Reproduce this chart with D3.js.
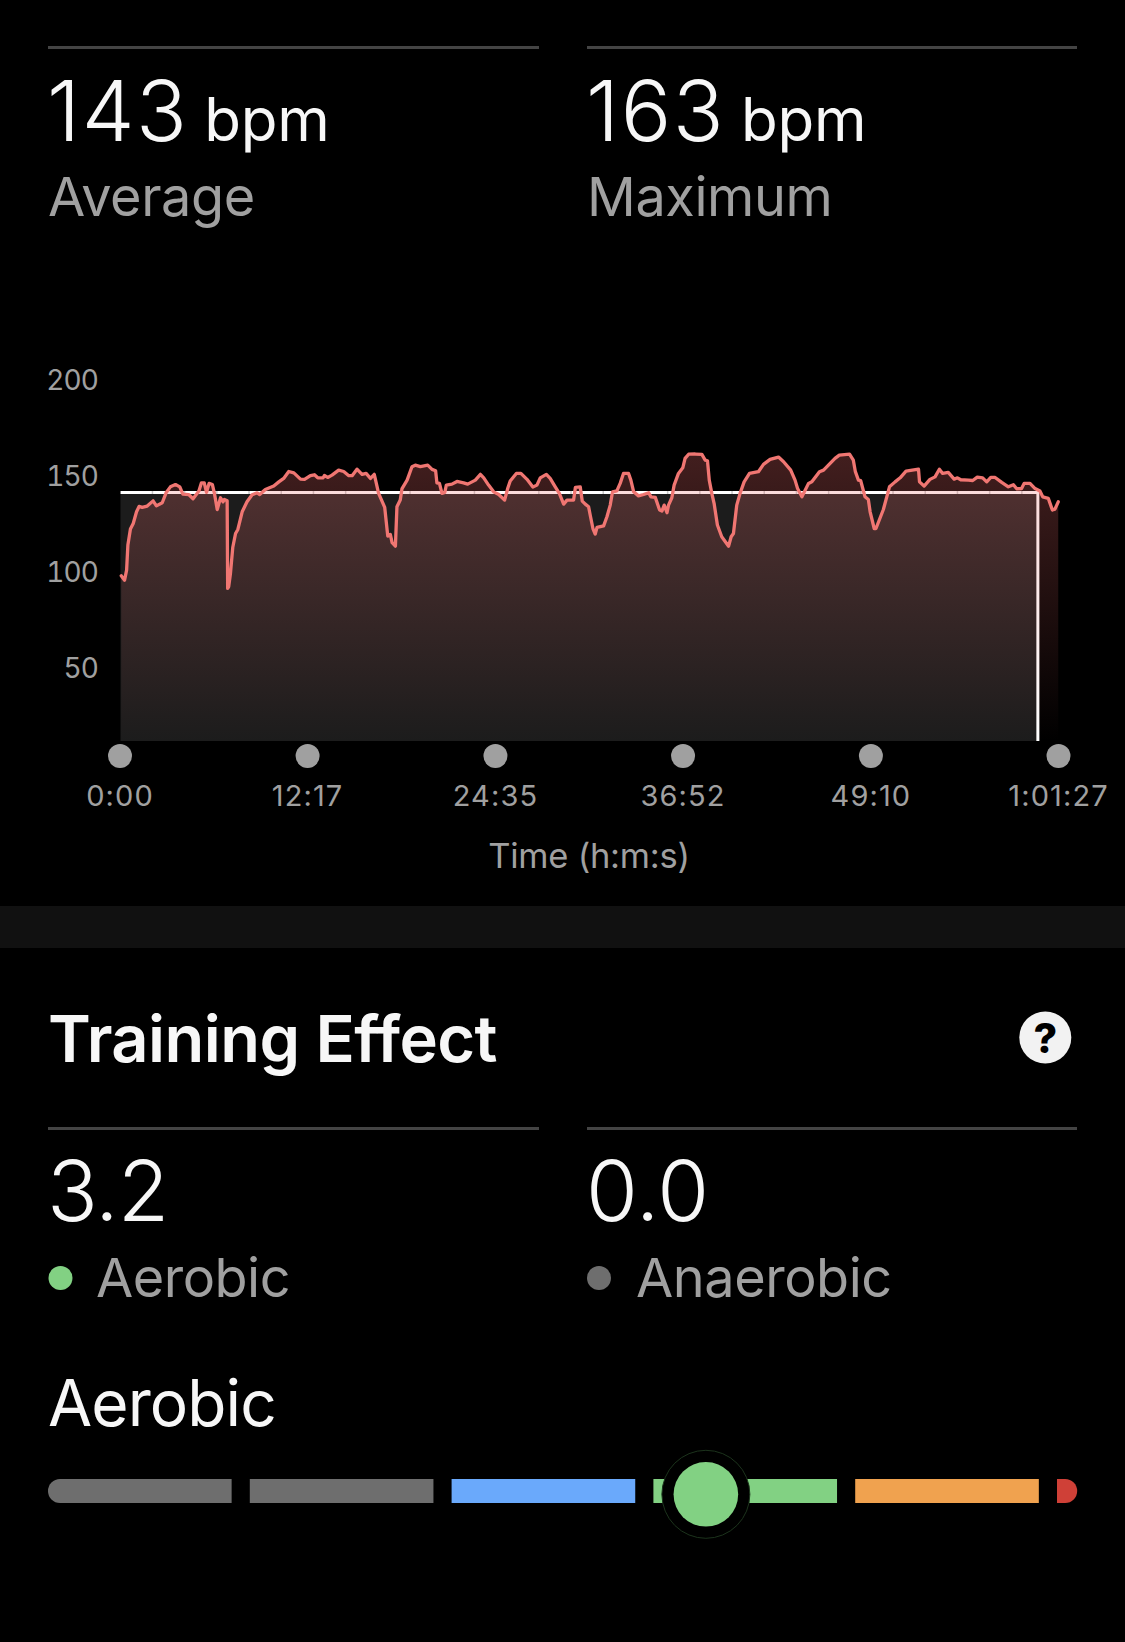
<!DOCTYPE html>
<html><head><meta charset="utf-8">
<script src="https://cdn.jsdelivr.net/npm/d3@7/dist/d3.min.js"></script>
<style>
html,body{margin:0;padding:0;background:#000;overflow:hidden}
svg{display:block}
text{font-family:Inter,"Noto Sans",sans-serif}
</style></head><body>
<svg id="c" width="1125" height="1642"></svg>
<script>
// Heart-rate trace
const seconds=[3,16,24,29,39,50,63,73,85,105,128,141,164,179,196,216,233,245,268,285,308,318,329,338,348,361,369,380,393,403,408,419,421,425,432,441,452,461,478,497,517,537,547,569,602,622,641,661,681,707,723,746,762,775,796,801,814,831,857,877,897,910,929,949,965,982,997,1014,1038,1050,1060,1067,1080,1086,1099,1106,1126,1145,1158,1178,1207,1224,1238,1243,1253,1263,1274,1280,1302,1322,1348,1364,1394,1414,1427,1446,1466,1486,1509,1521,1531,1555,1573,1597,1620,1636,1649,1673,1688,1708,1724,1741,1754,1780,1787,1806,1814,1826,1839,1846,1856,1865,1872,1898,1911,1924,1933,1950,1963,1976,1996,2005,2016,2035,2055,2075,2084,2101,2118,2127,2136,2147,2153,2166,2175,2192,2209,2218,2232,2258,2284,2297,2306,2313,2323,2332,2345,2362,2389,2399,2408,2421,2434,2450,2471,2506,2526,2552,2585,2605,2633,2650,2660,2677,2703,2716,2746,2762,2807,2824,2864,2879,2887,2899,2908,2925,2938,2945,2961,2968,2997,3021,3043,3063,3086,3135,3139,3157,3180,3200,3217,3230,3252,3275,3288,3301,3331,3348,3366,3387,3403,3419,3436,3462,3488,3508,3521,3540,3550,3573,3593,3612,3623,3645,3661,3671,3684];
const bpm=[99.6,97.3,102.5,115.6,123.9,126.8,132.9,135.7,135.2,135.9,138.6,136,137.6,142.8,145.9,147.1,145.9,142.1,141.9,139.7,143.7,148,148,143,147.7,147.1,142.5,134.1,140.2,138.1,139.3,138.6,93,93.9,100.8,114.3,121.6,123.7,132.9,138.1,141.8,142.8,141.9,144.5,146.3,148.5,150.3,153.9,153.2,149.9,149.8,151.8,152.2,150.6,150.6,151.8,150.8,152,154.6,153.9,151.7,151.7,155.1,152.4,152.9,150.3,152.4,142.5,135.2,120.2,121.1,116.8,115,135.5,139,145,149.4,156.4,157.2,156.4,157.2,155,154.3,148,147.7,142.5,143,146.8,147.3,148.7,148,147.3,149.4,152.4,150.6,146.8,143.3,141.9,139,145,148.9,152.9,152.9,149.8,145.8,146.8,150.6,152.4,150.3,145.9,142.5,136.9,139,139,145.6,145.9,138.5,136.9,135.5,130.7,124.2,121.3,124.8,125.6,130.3,136.4,143.3,143.8,147.7,152.9,152.9,149.4,143.3,141.2,141.9,142.8,140.7,140.4,133.8,133.3,136.4,132.4,136.4,140.2,146.8,152.9,155.8,160.7,162.9,163,162.8,159.8,159.5,149.4,142.5,137.3,126,119.9,115,119.9,121.6,136.4,142.5,148.5,152.9,153.8,157.6,160.2,161.4,159,154.6,149.4,145,140.7,147.7,148.5,153.8,154.6,160.7,162.4,162.9,159.8,153.8,149.4,149.1,140.7,139.3,132.9,124.2,124.2,134.1,145.9,148.5,150.6,154.1,155.1,148.5,146.3,149.8,151.1,155.1,152.9,153.4,149.9,150.6,149.6,149.4,149.2,151,150.6,148.5,150.8,150.8,148.2,145.9,147,144.9,145,147.7,147.7,145,143.7,140.7,139.9,133.8,134.3,138.1];
const averageBpm=143;
const maximumBpm=163;
const averageEndSeconds=3604;
const totalSeconds=3687;
const yTicks=[200,150,100,50];
const xTickSeconds=[0,737,1475,2212,2950,3687];
const xTickLabels=["0:00","12:17","24:35","36:52","49:10","1:01:27"];
// Aerobic training-effect scale
const teStarts=[0,1,2,3,4,5];
const teEnds=[0.91,1.91,2.91,3.91,4.91,5.1];
const teColors=["#6e6e6e","#6e6e6e","#6aa9fb","#82d183","#f0a24f","#cf4037"];
const aerobicTE=3.2, anaerobicTE=0.0, aerobicMarker=3.26;

const svg=d3.select("#c");
svg.append("rect").attr("width",1125).attr("height",1642).attr("fill","#000");
const grey="#a0a0a0", white="#f7f7f7";
const T=(x,y,s,size,fill,weight,anchor)=>svg.append("text").attr("x",x).attr("y",y).text(s)
  .attr("font-size",size).attr("fill",fill).attr("font-weight",weight||400).attr("text-anchor",anchor||"start");
const rule=(x1,x2,y)=>svg.append("rect").attr("x",x1).attr("y",y-1.5).attr("width",x2-x1).attr("height",3).attr("fill","#444");

// Header stats
rule(48,539,47.5); rule(587,1077,47.5);
function stat(x,val,unit,label){
  const t=T(x,141,val,84,white,300).attr("letter-spacing",1.6);
  t.append("tspan").text(" ").attr("font-size",50);
  t.append("tspan").text(unit).attr("font-size",60).attr("letter-spacing",-0.2).attr("font-weight",400);
  T(x+1,216,label,54,grey,400).attr("letter-spacing",-0.4);
}
stat(47,averageBpm,"bpm","Average");
stat(586,maximumBpm,"bpm","Maximum");

// Chart
const x=d3.scaleLinear().domain([0,totalSeconds]).range([120.5,1059]);
const y=d3.scaleLinear().domain([13.5,200]).range([741,383]);
const data=seconds.map((s,i)=>({s,v:bpm[i]}));
const defs=svg.append("defs");
const g=defs.append("linearGradient").attr("id","hr").attr("gradientUnits","userSpaceOnUse")
  .attr("x1",0).attr("x2",0).attr("y1",450).attr("y2",741);
g.append("stop").attr("offset",0).attr("stop-color","#f06e6e").attr("stop-opacity",0.28);
g.append("stop").attr("offset",1).attr("stop-color","#f06e6e").attr("stop-opacity",0);

// Average block
svg.append("rect").attr("x",x(0)).attr("y",y(averageBpm)).attr("width",x(averageEndSeconds)-x(0))
  .attr("height",y(y.domain()[0])-y(averageBpm)).attr("fill","rgba(255,255,255,0.11)");
svg.append("path").attr("fill","none").attr("stroke","#fff").attr("stroke-width",3)
  .attr("d",d3.line()([[x(0),y(averageBpm)],[x(averageEndSeconds),y(averageBpm)],[x(averageEndSeconds),y(y.domain()[0])]]));
svg.append("path").attr("fill","none").attr("stroke","#000").attr("stroke-opacity",0.22).attr("stroke-width",3)
  .attr("stroke-dasharray","1.5 30.7").attr("stroke-dashoffset",1)
  .attr("d",d3.line()([[x(0),y(averageBpm)],[x(averageEndSeconds),y(averageBpm)]]));
// Area and line
svg.append("path").datum(data).attr("fill","url(#hr)")
  .attr("d",d3.area().x(d=>x(d.s)).y0(y(y.domain()[0])).y1(d=>y(d.v)));
svg.append("path").datum(data).attr("fill","none").attr("stroke","#f07672").attr("stroke-width",3.3)
  .attr("stroke-linejoin","round").attr("stroke-linecap","round").attr("d",d3.line().x(d=>x(d.s)).y(d=>y(d.v)));

// Y axis
const ya=svg.append("g").attr("transform","translate(98,-2.5)")
  .call(d3.axisLeft(y).tickValues(yTicks).tickSize(0).tickPadding(0));
ya.select(".domain").remove();
ya.selectAll("text").attr("fill",grey).attr("font-size",28).attr("letter-spacing",-0.9).style("font-variant-numeric","tabular-nums");

// X axis
const xa=svg.append("g").attr("transform","translate(-1,756)")
  .call(d3.axisBottom(x).tickValues(xTickSeconds).tickFormat((d,i)=>xTickLabels[i]).tickSize(0).tickPadding(0));
xa.select(".domain").remove();
xa.selectAll(".tick").insert("circle","text").attr("r",12).attr("fill",grey);
xa.selectAll("text").attr("fill",grey).attr("font-size",29).attr("y",50).attr("dy",0).attr("letter-spacing",1.1);
T(589,868,"Time (h:m:s)",34.5,grey,400,"middle").attr("letter-spacing",-0.25);

// Separator
svg.append("rect").attr("x",0).attr("y",906).attr("width",1125).attr("height",42).attr("fill","#111");

// Training effect
T(48,1062,"Training Effect",65,white,600).attr("letter-spacing",-0.55);
svg.append("circle").attr("cx",1045.3).attr("cy",1037.5).attr("r",26).attr("fill","#f2f2f2");
T(1045.3,1053,"?",41,"#000",800,"middle");
rule(48,539,1128.5); rule(587,1077,1128.5);
T(47,1221,aerobicTE.toFixed(1),84,white,300).attr("letter-spacing",-1);
T(586,1221,anaerobicTE.toFixed(1),84,white,300).attr("letter-spacing",0);
svg.append("circle").attr("cx",60.5).attr("cy",1278).attr("r",12).attr("fill","#82d183");
T(96,1297,"Aerobic",54,grey,400).attr("letter-spacing",-0.5);
svg.append("circle").attr("cx",599).attr("cy",1278).attr("r",12).attr("fill","#6e6e6e");
T(636,1297,"Anaerobic",54,grey,400).attr("letter-spacing",-0.45);
T(48,1426,"Aerobic",64,white,400).attr("letter-spacing",-0.9);

// Aerobic scale
const te=d3.scaleLinear().domain([0,5]).range([48,1057]);
const barTop=1479, barH=24, rad=12;
svg.append("g").selectAll("path").data(teStarts).join("path").attr("fill",(d,i)=>teColors[i])
  .attr("d",(d,i)=>{
    const a=te(d), b=te(teEnds[i]), p=d3.path();
    const l=i===0?rad:0, r=i===teStarts.length-1?rad:0;
    p.moveTo(a+l,barTop); p.lineTo(b-r,barTop);
    if(r)p.arcTo(b,barTop,b,barTop+r,r);
    p.lineTo(b,barTop+barH-r);
    if(r)p.arcTo(b,barTop+barH,b-r,barTop+barH,r);
    p.lineTo(a+l,barTop+barH);
    if(l)p.arcTo(a,barTop+barH,a,barTop+barH-l,l);
    p.lineTo(a,barTop+l);
    if(l)p.arcTo(a,barTop,a+l,barTop,l);
    p.closePath(); return p.toString();
  });
svg.append("circle").attr("cx",te(aerobicMarker)).attr("cy",1494.3).attr("r",44).attr("fill","#000").attr("stroke","#1c331c").attr("stroke-width",1);
svg.append("circle").attr("cx",te(aerobicMarker)).attr("cy",1494.3).attr("r",32.3).attr("fill","#82d183");
</script>
</body></html>
